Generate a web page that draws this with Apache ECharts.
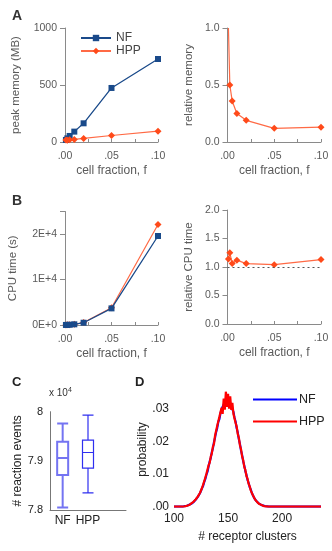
<!DOCTYPE html>
<html><head><meta charset="utf-8">
<script src="https://cdn.jsdelivr.net/npm/echarts@6/dist/echarts.min.js"></script>
<style>html,body{margin:0;padding:0;background:#fff}#c{width:332px;height:551px}</style>
</head><body><div id="c"></div>
<script>
// ---- data ----
const fractions = [0.001, 0.0025, 0.005, 0.01, 0.02, 0.05, 0.1];
const memNF  = [18, 32, 53, 91, 164, 474, 728];
const memHPP = [18, 16, 19, 23, 31, 57, 95];
const relMem = [1.0, 0.50, 0.36, 0.25, 0.19, 0.12, 0.13];
const cpuNF  = [10, 25, 60, 150, 500, 3660, 19600];
const cpuHPP = [11, 31, 64, 168, 530, 3810, 22150];
const relCpu = [1.14, 1.25, 1.06, 1.12, 1.06, 1.04, 1.13];

const fracTicks = [0, 0.05, 0.1];
const fracTickLabels = ['.00', '.05', '.10'];
const memTicks = [0, 500, 1000];
const memTickLabels = ['0', '500', '1000'];
const relTicks = [0, 0.5, 1.0, 1.5, 2.0];
const relTickLabels = ['0.0', '0.5', '1.0', '1.5', '2.0'];
const cpuTicks = [0, 10000, 20000];
const cpuTickLabels = ['0E+0', '1E+4', '2E+4'];

const boxCategories = ['NF', 'HPP', ''];
// [min, Q1, median, Q3, max]
const boxNF  = [78050, 78710, 79060, 79390, 79760];
const boxHPP = [78350, 78850, 79170, 79420, 79930];
const eventTicks = [78000, 79000, 80000];
const eventTickLabels = ['7.8', '7.9', '8'];

const clusterStart = 100;
const probNF = [
 0,0,0,0,0,0,0,0,0,0,
 .0002,.0002,.0003,.0004,.0006,.0007,.0009,.0012,
 .0014,.0018,.0021,.0025,.0030,.0034,.0041,.0047,.0057,.0064,
 .0076,.0085,.0098,.0107,.0123,.0138,.0149,.0167,.0179,.0198,
 .0212,.0229,.0241,.0260,.0268,.0286,.0292,.0306,.0310,.0320,
 .0318,.0327,.0322,.0331,.0316,.0312,.0298,.0290,.0272,.0260,
 .0240,.0227,.0206,.0192,.0172,.0158,.0139,.0126,.0109,.0098,
 .0082,.0073,.0060,.0053,.0042,.0037,.0028,.0024,.0018,.0015,
 .0011,.0009,.0007,.0005,.0004,.0003,.0002,.0002,.0001,.0001,
 0,0,0,0,0,0,0,0,0,0,
 0,0,0,0,0,0,0,0,0,0,
 0,0,0,0,0,0,0,0,0,0,
 0,0,0,0,0,0,0,0,0,0,
 0,0,0,0,0,0,0,0,0
];
const probHPP = [
 0,0,0,0,0,0,0,0,0,0,
 .0001,.0002,.0003,.0004,.0005,.0007,.0010,.0011,
 .0015,.0017,.0022,.0024,.0031,.0033,.0042,.0046,.0058,.0062,
 .0078,.0083,.0101,.0104,.0127,.0134,.0153,.0163,.0184,.0192,
 .0218,.0224,.0248,.0252,.0275,.0279,.0303,.0284,.0331,.0297,
 .0352,.0305,.0345,.0300,.0338,.0296,.0318,.0284,.0279,.0256,
 .0245,.0222,.0211,.0188,.0176,.0154,.0143,.0122,.0113,.0094,
 .0086,.0070,.0063,.0050,.0045,.0035,.0030,.0022,.0019,.0014,
 .0012,.0008,.0007,.0005,.0004,.0002,.0002,.0001,.0001,0,
 0,0,0,0,0,0,0,0,0,0,
 0,0,0,0,0,0,0,0,0,0,
 0,0,0,0,0,0,0,0,0,0,
 0,0,0,0,0,0,0,0,0,0,
 0,0,0,0,0,0,0,0,0
];
const probTicks = [0, 0.01, 0.02, 0.03];
const probTickLabels = ['.00', '.01', '.02', '.03'];
const clusterTicks = [100, 150, 200];
const clusterTickLabels = ['100', '150', '200'];

// ---- styling ----
const FONT = 'Liberation Sans, Arial, sans-serif';
const GRAY = '#5a5a5a';
const AXIS = '#8a8a8a';
const NF_COLOR = '#1a4a8a';
const HPP_COLOR = '#ff4a1a';
const HPP_LINE = '#ff6a45';

function lookup(ticks, labels) {
  return v => { for (let i = 0; i < ticks.length; i++) if (Math.abs(v - ticks[i]) < 1e-9 * Math.max(1, Math.abs(ticks[i]))) return labels[i]; return ''; };
}
const pairs = (xs, ys) => xs.map((x, i) => [x, ys[i]]);

function fracAxis(gridIndex) {
  return {
    type: 'value', gridIndex, min: 0, max: 0.1, interval: 0.025,
    axisLine: { lineStyle: { color: AXIS, width: 1 } },
    axisTick: { inside: true, length: 3, lineStyle: { color: AXIS } },
    splitLine: { show: false },
    axisLabel: { formatter: lookup(fracTicks, fracTickLabels), color: GRAY, fontSize: 10.5, fontFamily: FONT, margin: 9 },
    name: 'cell fraction, f', nameLocation: 'middle', nameGap: 23,
    nameTextStyle: { color: GRAY, fontSize: 12, fontFamily: FONT }
  };
}
function leftAxis(gridIndex, min, max, interval, ticks, labels, name, gap) {
  return {
    type: 'value', gridIndex, min, max, interval,
    axisLine: { show: true, lineStyle: { color: AXIS, width: 1 } },
    axisTick: { show: true, inside: false, length: 5, lineStyle: { color: AXIS } },
    splitLine: { show: false },
    axisLabel: { formatter: lookup(ticks, labels), color: GRAY, fontSize: 10.5, fontFamily: FONT, margin: 8 },
    name, nameLocation: 'middle', nameGap: gap,
    nameTextStyle: { color: GRAY, fontSize: 11.5, fontFamily: FONT }
  };
}
const nfStyle = { color: NF_COLOR, symbol: 'rect', symbolSize: 6, lineStyle: { color: NF_COLOR, width: 1.3 }, itemStyle: { color: NF_COLOR } };
const hppStyle = { color: HPP_COLOR, symbol: 'diamond', symbolSize: 7, lineStyle: { color: HPP_LINE, width: 1.2 }, itemStyle: { color: HPP_COLOR } };

const relMemData = pairs(fractions, relMem).map((p, i) => i === 0 ? { value: p, symbol: 'none' } : p);

const option = {
  animation: false,
  backgroundColor: '#fff',
  textStyle: { fontFamily: FONT },
  title: [
    { text: 'A', left: 12, top: 9, padding: 0, textStyle: { fontSize: 14, fontWeight: 'bold', color: '#333', fontFamily: FONT } },
    { text: 'B', left: 12, top: 194, padding: 0, textStyle: { fontSize: 14, fontWeight: 'bold', color: '#333', fontFamily: FONT } },
    { text: 'C', left: 12, top: 376, padding: 0, textStyle: { fontSize: 13, fontWeight: 'bold', color: '#222', fontFamily: FONT } },
    { text: 'D', left: 135, top: 376, padding: 0, textStyle: { fontSize: 13, fontWeight: 'bold', color: '#222', fontFamily: FONT } }
  ],
  graphic: [
    { type: 'text', left: 49, top: 387, style: { text: 'x 10{s|4}', fill: '#333', font: '10px ' + FONT, rich: { s: { fontSize: 7, verticalAlign: 'top', padding: [0, 0, 6, 0], fill: '#333' } } } }
  ],
  legend: [
    { data: ['NF', 'HPP'], left: 75, top: 27, orient: 'vertical', itemWidth: 30, itemHeight: 8, itemGap: 1,
      textStyle: { color: '#444', fontSize: 12, fontFamily: FONT, lineHeight: 11 } },
    { data: [{ name: 'NF (D)', icon: 'rect' }, { name: 'HPP (D)', icon: 'rect' }], left: 248, top: 388, orient: 'vertical',
      itemWidth: 44, itemHeight: 2, itemGap: 9,
      formatter: n => n.replace(' (D)', ''),
      textStyle: { color: '#222', fontSize: 12.5, fontFamily: FONT, padding: [0, 0, 0, -3] } }
  ],
  grid: [
    { left: 65, top: 28, width: 93, height: 114 },
    { left: 227.5, top: 28, width: 93.5, height: 114 },
    { left: 65, top: 211.5, width: 93, height: 113.5 },
    { left: 227.5, top: 210, width: 93.5, height: 114 },
    { left: 50, top: 411.7, width: 76, height: 98.3 },
    { left: 174, top: 392.3, width: 147, height: 114.4 }
  ],
  xAxis: [
    fracAxis(0), fracAxis(1), fracAxis(2), fracAxis(3),
    { type: 'category', gridIndex: 4, data: boxCategories, boundaryGap: true,
      axisLine: { lineStyle: { color: '#777' } }, axisTick: { show: false },
      axisLabel: { interval: 0, color: '#222', fontSize: 12, fontFamily: FONT, margin: 5 } },
    { type: 'value', gridIndex: 5, min: 100, max: 236, interval: 50,
      axisLine: { show: false }, axisTick: { show: false }, splitLine: { show: false },
      axisLabel: { formatter: lookup(clusterTicks, clusterTickLabels), color: '#222', fontSize: 12, fontFamily: FONT, margin: 6 },
      name: '# receptor clusters', nameLocation: 'middle', nameGap: 24,
      nameTextStyle: { color: '#222', fontSize: 12, fontFamily: FONT } }
  ],
  yAxis: [
    leftAxis(0, 0, 1000, 500, memTicks, memTickLabels, 'peak memory (MB)', 43),
    leftAxis(1, 0, 1, 0.5, relTicks, relTickLabels, 'relative memory', 33),
    leftAxis(2, 0, 25000, 10000, cpuTicks, cpuTickLabels, 'CPU time (s)', 46),
    leftAxis(3, 0, 2, 0.5, relTicks, relTickLabels, 'relative CPU time', 33),
    { type: 'value', gridIndex: 4, min: 78000, max: 80000, interval: 1000,
      axisLine: { show: true, lineStyle: { color: '#777' } }, axisTick: { show: false }, splitLine: { show: false },
      axisLabel: { formatter: lookup(eventTicks, eventTickLabels), color: '#222', fontSize: 11, fontFamily: FONT, margin: 7 },
      name: '# reaction events', nameLocation: 'middle', nameGap: 24,
      nameTextStyle: { color: '#222', fontSize: 12, fontFamily: FONT } },
    { type: 'value', gridIndex: 5, min: 0, max: 0.035, interval: 0.01,
      axisLine: { show: false }, axisTick: { show: false }, splitLine: { show: false },
      axisLabel: { formatter: lookup(probTicks, probTickLabels), color: '#222', fontSize: 12, fontFamily: FONT, margin: 5 },
      name: 'probability', nameLocation: 'middle', nameGap: 21,
      nameTextStyle: { color: '#222', fontSize: 12, fontFamily: FONT } }
  ],
  series: [
    Object.assign({ type: 'line', name: 'NF', xAxisIndex: 0, yAxisIndex: 0, data: pairs(fractions, memNF), z: 3 }, nfStyle),
    Object.assign({ type: 'line', name: 'HPP', xAxisIndex: 0, yAxisIndex: 0, data: pairs(fractions, memHPP), z: 4 }, hppStyle),
    Object.assign({ type: 'line', name: 'relative memory', xAxisIndex: 1, yAxisIndex: 1, data: relMemData }, hppStyle),
    Object.assign({ type: 'line', name: 'HPP', xAxisIndex: 2, yAxisIndex: 2, data: pairs(fractions, cpuHPP), z: 3 }, hppStyle),
    Object.assign({ type: 'line', name: 'NF', xAxisIndex: 2, yAxisIndex: 2, data: pairs(fractions, cpuNF), z: 4 }, nfStyle),
    Object.assign({ type: 'line', name: 'relative CPU time', xAxisIndex: 3, yAxisIndex: 3, data: pairs(fractions, relCpu),
      markLine: { silent: true, symbol: 'none', label: { show: false },
        lineStyle: { color: '#555', type: [2, 3], width: 1 }, data: [{ yAxis: 1.0 }] } }, hppStyle),
    { type: 'boxplot', name: 'NF box', xAxisIndex: 4, yAxisIndex: 4, boxWidth: [11, 11],
      data: [{ value: boxNF, itemStyle: { color: '#fff', borderColor: '#7474f2', borderWidth: 2 } },
             { value: boxHPP, itemStyle: { color: '#fff', borderColor: '#2f2ff0', borderWidth: 1.2 } }] },
    { type: 'line', name: 'NF (D)', xAxisIndex: 5, yAxisIndex: 5, showSymbol: false, symbol: 'none', clip: true,
      data: probNF.map((v, i) => [clusterStart + i, v]), color: '#0000ff', lineStyle: { color: '#0000ff', width: 2.2 } },
    { type: 'line', name: 'HPP (D)', xAxisIndex: 5, yAxisIndex: 5, showSymbol: false, symbol: 'none', clip: true,
      data: probHPP.map((v, i) => [clusterStart + i, v]), color: '#ff0000', lineStyle: { color: '#ff0000', width: 2.2 } }
  ]
};
const chart = echarts.init(document.getElementById('c'), null, { renderer: 'canvas' });
chart.setOption(option);
</script>
</body></html>
